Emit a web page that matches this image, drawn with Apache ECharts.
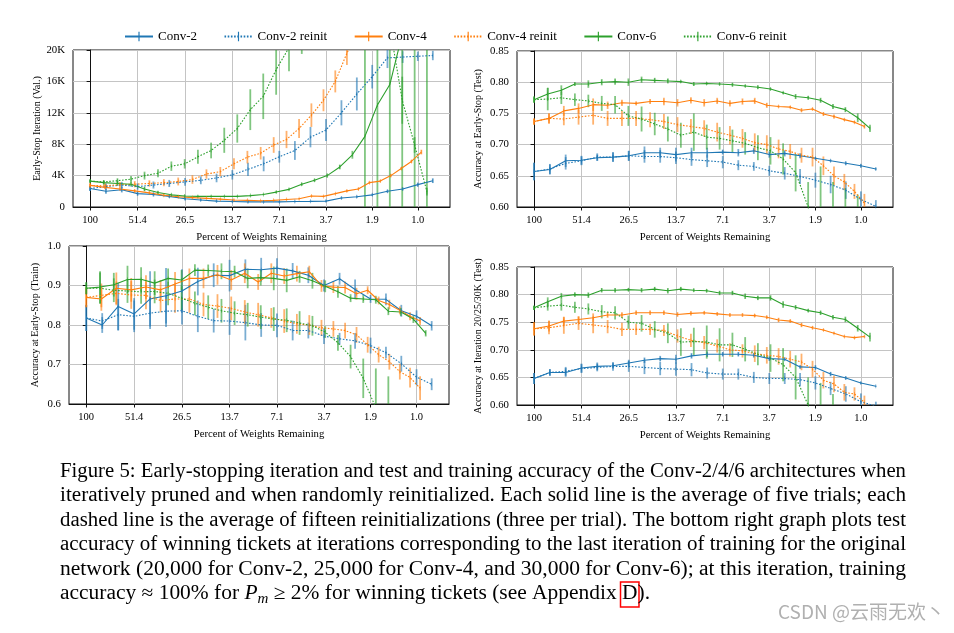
<!DOCTYPE html>
<html><head><meta charset="utf-8">
<script src="https://cdn.jsdelivr.net/npm/echarts@6.0.0/dist/echarts.min.js"></script>
<style>html,body{margin:0;padding:0;background:#fff}#c{width:954px;height:633px}</style>
</head><body><div id="c"></div>
<script>
// ---------- x positions: percent of weights remaining per network ----------
const pctConv2 = [100, 80.10, 64.16, 51.41, 41.20, 33.02, 26.47, 21.23, 17.03, 13.66, 10.97, 8.808, 7.076, 5.688, 4.575, 3.682, 2.965, 2.390, 1.928, 1.557, 1.258, 1.018, 0.825];
const pctConv4 = [100, 81.08, 65.84, 53.55, 43.63, 35.61, 29.13, 23.88, 19.62, 16.16, 13.35, 11.06, 9.184, 7.653, 6.397, 5.365, 4.515, 3.812, 3.231, 2.746, 2.343, 2.007, 1.723, 1.485, 1.284, 1.114, 0.969];
const pctConv6 = [100, 82.54, 68.19, 56.39, 46.68, 38.67, 32.07, 26.61, 22.11, 18.38, 15.29, 12.74, 10.62, 8.858, 7.395, 6.178, 5.166, 4.322, 3.620, 3.033, 2.544, 2.134, 1.792, 1.506, 1.266, 1.064, 0.896];
const xTickPct = [100, 51.41, 26.47, 13.66, 7.076, 3.682, 1.928, 1.018];
const xTickLabels = ['100', '51.4', '26.5', '13.7', '7.1', '3.7', '1.9', '1.0'];

// ---------- top-left: early-stop iteration (val.) ----------
const tlConv2 = [2350, 2000, 2200, 1700, 1600, 1350, 1050, 900, 750, 700, 650, 650, 650, 700, 720, 750, 1150, 1300, 1550, 2000, 2300, 2850, 3350];
const tlConv2Err = [300, 300, 350, 250, 250, 200, 200, 150, 150, 150, 100, 100, 100, 100, 100, 100, 150, 150, 150, 200, 200, 250, 300];
const tlConv2Re = [2350, 2600, 2800, 2600, 2800, 3000, 3200, 3400, 3700, 4100, 4800, 5500, 6400, 7200, 8900, 9800, 12000, 14400, 16600, 19000, 19100, 19200, 19300];
const tlConv2ReErr = [300, 400, 400, 400, 450, 450, 500, 500, 550, 600, 850, 950, 750, 1200, 1300, 1400, 1600, 2100, 1500, 1300, 750, 600, 600];
const tlConv4 = [2750, 2500, 2300, 2050, 1800, 1500, 1300, 1200, 1100, 1000, 900, 850, 800, 850, 950, 1050, 1400, 1350, 1700, 2050, 2300, 3100, 3300, 4000, 4900, 5800, 7000];
const tlConv4Err = [200, 200, 200, 200, 200, 150, 150, 150, 100, 100, 100, 100, 100, 100, 100, 100, 100, 100, 100, 150, 150, 150, 150, 200, 200, 200, 300];
const tlConv4Re = [2750, 2700, 2850, 2900, 3000, 3100, 3250, 3500, 4200, 4500, 5500, 6350, 6850, 7900, 8600, 10000, 11700, 13600, 16000, 19600, 22500, 24500, 25000, 25000, 25000, 25000, 25000];
const tlConv4ReErr = [300, 300, 350, 400, 400, 450, 500, 550, 600, 600, 700, 800, 800, 1000, 1100, 1200, 1500, 1400, 1400, 1500, 1500, 1500, 1000, 1000, 1000, 1000, 1000];
const tlConv6 = [3300, 3100, 3000, 2900, 2300, 1850, 1550, 1400, 1350, 1350, 1350, 1350, 1450, 1600, 1900, 2250, 2900, 3400, 4000, 5100, 6650, 9000, 13000, 15600, 22000, 24000, 25000];
const tlConv6Err = [200, 250, 300, 300, 300, 200, 150, 150, 100, 100, 100, 100, 100, 100, 150, 150, 200, 200, 250, 300, 500, 11000, 13500, 16000, 22000, 24000, 25000];
const tlConv6Re = [3300, 3200, 3350, 3550, 4000, 4300, 5200, 5500, 6400, 7200, 8500, 10000, 12400, 14100, 17500, 20300, 22500, 24000, 25000, 25000, 25000, 25000, 25000, 23000, 13600, 7900, 1950];
const tlConv6ReErr = [200, 200, 300, 400, 500, 500, 600, 600, 900, 1000, 1600, 1800, 2600, 2900, 3200, 3000, 3000, 2000, 1500, 1000, 1000, 1000, 1000, 3000, 3000, 1000, 500];

// ---------- top-right: accuracy at early-stop (test) ----------
const trConv2 = [0.657, 0.660, 0.674, 0.675, 0.679, 0.680, 0.682, 0.687, 0.687, 0.684, 0.687, 0.687, 0.688, 0.687, 0.690, 0.684, 0.686, 0.682, 0.678, 0.674, 0.670, 0.666, 0.661];
const trConv2Err = [0.014, 0.008, 0.010, 0.007, 0.005, 0.008, 0.008, 0.010, 0.008, 0.011, 0.008, 0.008, 0.004, 0.006, 0.005, 0.005, 0.005, 0.004, 0.002, 0.002, 0.003, 0.003, 0.002];
const trConv2Re = [0.657, 0.661, 0.670, 0.674, 0.680, 0.680, 0.682, 0.681, 0.681, 0.679, 0.676, 0.674, 0.672, 0.667, 0.665, 0.658, 0.654, 0.649, 0.643, 0.636, 0.627, 0.612, 0.601];
const trConv2ReErr = [0.014, 0.008, 0.010, 0.007, 0.006, 0.007, 0.008, 0.010, 0.010, 0.010, 0.010, 0.010, 0.010, 0.008, 0.007, 0.008, 0.010, 0.012, 0.012, 0.014, 0.014, 0.013, 0.010];
const trConv4 = [0.737, 0.742, 0.754, 0.758, 0.764, 0.763, 0.767, 0.766, 0.769, 0.769, 0.767, 0.771, 0.767, 0.770, 0.766, 0.769, 0.770, 0.763, 0.761, 0.760, 0.755, 0.757, 0.749, 0.745, 0.740, 0.736, 0.729];
const trConv4Err = [0.005, 0.008, 0.008, 0.008, 0.010, 0.006, 0.005, 0.003, 0.004, 0.006, 0.006, 0.005, 0.006, 0.005, 0.005, 0.005, 0.005, 0.004, 0.002, 0.002, 0.003, 0.002, 0.003, 0.003, 0.002, 0.002, 0.003];
const trConv4Re = [0.737, 0.742, 0.741, 0.744, 0.747, 0.742, 0.742, 0.742, 0.740, 0.737, 0.732, 0.729, 0.726, 0.720, 0.715, 0.710, 0.703, 0.700, 0.693, 0.689, 0.683, 0.680, 0.666, 0.650, 0.640, 0.625, 0.606];
const trConv4ReErr = [0.005, 0.008, 0.010, 0.012, 0.015, 0.012, 0.012, 0.012, 0.012, 0.012, 0.012, 0.012, 0.013, 0.015, 0.015, 0.015, 0.015, 0.015, 0.015, 0.012, 0.012, 0.015, 0.015, 0.015, 0.013, 0.012, 0.015];
const trConv6 = [0.772, 0.781, 0.787, 0.797, 0.797, 0.800, 0.801, 0.800, 0.804, 0.803, 0.802, 0.801, 0.797, 0.798, 0.797, 0.796, 0.794, 0.792, 0.789, 0.783, 0.777, 0.775, 0.771, 0.761, 0.756, 0.743, 0.726];
const trConv6Err = [0.005, 0.010, 0.008, 0.003, 0.006, 0.005, 0.005, 0.006, 0.005, 0.004, 0.004, 0.002, 0.003, 0.002, 0.002, 0.003, 0.002, 0.003, 0.002, 0.002, 0.004, 0.003, 0.004, 0.004, 0.004, 0.007, 0.006];
const trConv6Re = [0.772, 0.773, 0.775, 0.772, 0.770, 0.766, 0.764, 0.746, 0.741, 0.733, 0.725, 0.715, 0.720, 0.712, 0.710, 0.706, 0.702, 0.695, 0.690, 0.677, 0.655, 0.600, 0.580, 0.550, 0.520, 0.500, 0.450];
const trConv6ReErr = [0.005, 0.018, 0.010, 0.010, 0.010, 0.012, 0.014, 0.016, 0.020, 0.018, 0.020, 0.020, 0.030, 0.020, 0.018, 0.018, 0.018, 0.020, 0.022, 0.025, 0.030, 0.040, 0.085, 0.090, 0.110, 0.120, 0.100];

// ---------- bottom-left: accuracy at early-stop (train) ----------
const blConv2 = [0.818, 0.800, 0.847, 0.828, 0.866, 0.874, 0.886, 0.910, 0.926, 0.925, 0.941, 0.940, 0.944, 0.937, 0.926, 0.900, 0.917, 0.890, 0.866, 0.865, 0.836, 0.822, 0.798];
const blConv2Err = [0.033, 0.020, 0.060, 0.040, 0.070, 0.070, 0.055, 0.035, 0.030, 0.040, 0.025, 0.030, 0.025, 0.020, 0.020, 0.015, 0.015, 0.025, 0.010, 0.015, 0.015, 0.015, 0.012];
const blConv2Re = [0.818, 0.810, 0.826, 0.822, 0.830, 0.835, 0.836, 0.822, 0.811, 0.810, 0.806, 0.800, 0.799, 0.786, 0.786, 0.772, 0.765, 0.760, 0.748, 0.730, 0.702, 0.668, 0.650];
const blConv2ReErr = [0.033, 0.020, 0.040, 0.040, 0.040, 0.040, 0.035, 0.040, 0.030, 0.035, 0.045, 0.030, 0.030, 0.025, 0.020, 0.020, 0.015, 0.020, 0.020, 0.015, 0.020, 0.020, 0.015];
const blConv4 = [0.870, 0.866, 0.893, 0.889, 0.896, 0.889, 0.904, 0.918, 0.918, 0.927, 0.914, 0.931, 0.909, 0.931, 0.924, 0.930, 0.935, 0.899, 0.896, 0.895, 0.879, 0.888, 0.862, 0.852, 0.837, 0.822, 0.810];
const blConv4Err = [0.025, 0.030, 0.040, 0.030, 0.030, 0.025, 0.030, 0.025, 0.025, 0.025, 0.025, 0.025, 0.020, 0.025, 0.020, 0.020, 0.015, 0.015, 0.015, 0.015, 0.015, 0.010, 0.010, 0.012, 0.010, 0.010, 0.010];
const blConv4Re = [0.870, 0.875, 0.880, 0.876, 0.875, 0.862, 0.866, 0.866, 0.852, 0.848, 0.842, 0.833, 0.826, 0.818, 0.810, 0.803, 0.800, 0.793, 0.790, 0.786, 0.775, 0.750, 0.725, 0.707, 0.682, 0.667, 0.640];
const blConv4ReErr = [0.025, 0.030, 0.030, 0.035, 0.035, 0.030, 0.035, 0.035, 0.030, 0.030, 0.030, 0.030, 0.030, 0.025, 0.030, 0.025, 0.025, 0.020, 0.020, 0.020, 0.020, 0.020, 0.020, 0.020, 0.020, 0.025, 0.030];
const blConv6 = [0.893, 0.896, 0.902, 0.915, 0.916, 0.906, 0.918, 0.914, 0.939, 0.938, 0.936, 0.935, 0.918, 0.920, 0.918, 0.913, 0.922, 0.912, 0.898, 0.884, 0.868, 0.866, 0.864, 0.835, 0.833, 0.815, 0.779];
const blConv6Err = [0.015, 0.040, 0.030, 0.035, 0.030, 0.030, 0.025, 0.025, 0.015, 0.015, 0.020, 0.015, 0.025, 0.020, 0.030, 0.030, 0.015, 0.020, 0.015, 0.015, 0.010, 0.010, 0.010, 0.010, 0.010, 0.010, 0.008];
const blConv6Re = [0.893, 0.893, 0.888, 0.886, 0.884, 0.885, 0.880, 0.868, 0.855, 0.845, 0.836, 0.830, 0.826, 0.820, 0.815, 0.812, 0.805, 0.798, 0.782, 0.755, 0.720, 0.665, 0.590, 0.520, 0.450, 0.400, 0.350];
const blConv6ReErr = [0.015, 0.040, 0.030, 0.030, 0.030, 0.030, 0.030, 0.030, 0.030, 0.030, 0.030, 0.030, 0.030, 0.030, 0.030, 0.030, 0.030, 0.025, 0.015, 0.020, 0.030, 0.050, 0.100, 0.150, 0.150, 0.150, 0.150];

// ---------- bottom-right: accuracy at iteration 20/25/30K (test) ----------
const brConv2 = [0.648, 0.659, 0.659, 0.667, 0.670, 0.671, 0.676, 0.681, 0.684, 0.683, 0.689, 0.692, 0.692, 0.692, 0.690, 0.684, 0.683, 0.669, 0.668, 0.656, 0.649, 0.640, 0.634];
const brConv2Err = [0.010, 0.006, 0.008, 0.008, 0.007, 0.005, 0.006, 0.005, 0.005, 0.008, 0.005, 0.005, 0.004, 0.004, 0.004, 0.004, 0.003, 0.003, 0.004, 0.004, 0.003, 0.002, 0.001];
const brConv2Re = [0.648, 0.659, 0.661, 0.666, 0.668, 0.670, 0.670, 0.668, 0.666, 0.665, 0.664, 0.658, 0.656, 0.656, 0.650, 0.648, 0.648, 0.646, 0.640, 0.630, 0.620, 0.606, 0.598];
const brConv2ReErr = [0.010, 0.006, 0.008, 0.008, 0.007, 0.008, 0.010, 0.012, 0.012, 0.012, 0.012, 0.010, 0.010, 0.010, 0.010, 0.010, 0.010, 0.012, 0.012, 0.012, 0.014, 0.015, 0.008];
const brConv4 = [0.738, 0.743, 0.752, 0.755, 0.758, 0.763, 0.763, 0.767, 0.767, 0.767, 0.764, 0.766, 0.767, 0.765, 0.763, 0.763, 0.762, 0.759, 0.754, 0.752, 0.745, 0.740, 0.736, 0.730, 0.724, 0.722, 0.724];
const brConv4Err = [0.012, 0.010, 0.008, 0.006, 0.008, 0.005, 0.005, 0.004, 0.004, 0.004, 0.004, 0.004, 0.003, 0.003, 0.003, 0.003, 0.003, 0.003, 0.004, 0.003, 0.004, 0.003, 0.002, 0.002, 0.002, 0.002, 0.002];
const brConv4Re = [0.738, 0.740, 0.744, 0.748, 0.745, 0.742, 0.737, 0.737, 0.737, 0.735, 0.725, 0.717, 0.713, 0.707, 0.700, 0.698, 0.693, 0.690, 0.688, 0.683, 0.678, 0.665, 0.645, 0.638, 0.623, 0.620, 0.605];
const brConv4ReErr = [0.012, 0.012, 0.015, 0.012, 0.015, 0.012, 0.012, 0.010, 0.010, 0.010, 0.012, 0.012, 0.012, 0.012, 0.012, 0.012, 0.015, 0.015, 0.015, 0.015, 0.015, 0.015, 0.015, 0.015, 0.015, 0.012, 0.012];
const brConv6 = [0.776, 0.787, 0.797, 0.800, 0.799, 0.808, 0.808, 0.809, 0.808, 0.810, 0.807, 0.810, 0.808, 0.807, 0.803, 0.803, 0.797, 0.794, 0.794, 0.782, 0.777, 0.771, 0.767, 0.759, 0.755, 0.739, 0.723];
const brConv6Err = [0.004, 0.008, 0.006, 0.004, 0.005, 0.004, 0.004, 0.003, 0.004, 0.004, 0.005, 0.004, 0.003, 0.003, 0.004, 0.004, 0.005, 0.004, 0.005, 0.006, 0.004, 0.003, 0.004, 0.004, 0.005, 0.006, 0.008];
const brConv6Re = [0.776, 0.779, 0.781, 0.777, 0.774, 0.769, 0.767, 0.750, 0.748, 0.737, 0.730, 0.714, 0.715, 0.714, 0.709, 0.709, 0.701, 0.692, 0.685, 0.673, 0.650, 0.600, 0.560, 0.530, 0.500, 0.470, 0.440];
const brConv6ReErr = [0.004, 0.008, 0.010, 0.010, 0.010, 0.012, 0.012, 0.012, 0.015, 0.015, 0.018, 0.025, 0.025, 0.030, 0.030, 0.022, 0.022, 0.020, 0.025, 0.030, 0.040, 0.050, 0.080, 0.090, 0.100, 0.100, 0.080];

// ---------- labels ----------
const seriesNames = ['Conv-2', 'Conv-2 reinit', 'Conv-4', 'Conv-4 reinit', 'Conv-6', 'Conv-6 reinit'];
const xAxisTitle = 'Percent of Weights Remaining';
const captionLines = [
  'Figure 5: Early-stopping iteration and test and training accuracy of the Conv-2/4/6 architectures when',
  'iteratively pruned and when randomly reinitialized. Each solid line is the average of five trials; each',
  'dashed line is the average of fifteen reinitializations (three per trial). The bottom right graph plots test',
  'accuracy of winning tickets at iterations corresponding to the last iteration of training for the original',
  'network (20,000 for Conv-2, 25,000 for Conv-4, and 30,000 for Conv-6); at this iteration, training'
];

// ---------- build ----------
const SERIF = 'Liberation Serif';
const colorOf = ['#1f77b4', '#1f77b4', '#ff7f0e', '#ff7f0e', '#2ca02c', '#2ca02c'];
const pctOf = [pctConv2, pctConv2, pctConv4, pctConv4, pctConv6, pctConv6];
const toX = p => Math.log10(100 / p);
const xTickVals = xTickPct.map(toX);
const tickSym = 'path://M0,5L10,5M4.4,0L5.6,0L5.6,10L4.4,10Z';

const panels = [
  { grid: { left: 73, top: 50, width: 377, height: 157 }, min: 0, max: 20000, interval: 4000,
    name: 'Early-Stop Iteration (Val.)', nameGap: 30, fmt: v => v === 0 ? '0' : (v / 1000) + 'K',
    vals: [[tlConv2, tlConv2Err], [tlConv2Re, tlConv2ReErr], [tlConv4, tlConv4Err], [tlConv4Re, tlConv4ReErr], [tlConv6, tlConv6Err], [tlConv6Re, tlConv6ReErr]] },
  { grid: { left: 517, top: 51, width: 376, height: 156 }, min: 0.6, max: 0.85, interval: 0.05,
    name: 'Accuracy at Early-Stop (Test)', nameGap: 34, fmt: v => v.toFixed(2),
    vals: [[trConv2, trConv2Err], [trConv2Re, trConv2ReErr], [trConv4, trConv4Err], [trConv4Re, trConv4ReErr], [trConv6, trConv6Err], [trConv6Re, trConv6ReErr]] },
  { grid: { left: 69, top: 246, width: 380, height: 158 }, min: 0.6, max: 1.0, interval: 0.1,
    name: 'Accuracy at Early-Stop (Train)', nameGap: 29, fmt: v => v.toFixed(1),
    vals: [[blConv2, blConv2Err], [blConv2Re, blConv2ReErr], [blConv4, blConv4Err], [blConv4Re, blConv4ReErr], [blConv6, blConv6Err], [blConv6Re, blConv6ReErr]] },
  { grid: { left: 517, top: 267, width: 376, height: 138 }, min: 0.6, max: 0.85, interval: 0.05,
    name: 'Accuracy at Iteration 20/25/30K (Test)', nameGap: 34, fmt: v => v.toFixed(2),
    vals: [[brConv2, brConv2Err], [brConv2Re, brConv2ReErr], [brConv4, brConv4Err], [brConv4Re, brConv4ReErr], [brConv6, brConv6Err], [brConv6Re, brConv6ReErr]] }
];

function labelFor(v) {
  let b = 0;
  for (let i = 1; i < xTickVals.length; i++) if (Math.abs(xTickVals[i] - v) < Math.abs(xTickVals[b] - v)) b = i;
  return xTickLabels[b];
}

function errRender(color) {
  return function (params, api) {
    const cs = params.coordSys;
    const x = api.value(0), lo = api.value(1), hi = api.value(2);
    const a = api.coord([x, lo]), b = api.coord([x, hi]);
    const top = cs.y, bot = cs.y + cs.height;
    const y1 = Math.min(Math.max(a[1], top), bot), y2 = Math.min(Math.max(b[1], top), bot);
    if (Math.abs(y1 - y2) < 0.01) return { type: 'group', children: [] };
    return { type: 'line', shape: { x1: a[0], y1: y1, x2: a[0], y2: y2 },
      style: { stroke: color, lineWidth: 1.8, opacity: 0.6 } };
  };
}

const grids = [], xAxes = [], yAxes = [], series = [];
panels.forEach((pn, gi) => {
  grids.push(Object.assign({ show: true, borderColor: '#111', borderWidth: 1, backgroundColor: 'transparent' }, pn.grid));
  xAxes.push({
    type: 'value', gridIndex: gi, min: -0.104, max: 2.188,
    name: xAxisTitle, nameLocation: 'middle', nameGap: 24.5,
    nameTextStyle: { fontFamily: SERIF, fontSize: 10.7, color: '#000' },
    axisLine: { show: true, onZero: false, lineStyle: { color: '#111', width: 1 } },
    axisTick: { show: true, length: 3.5, customValues: xTickVals, lineStyle: { color: '#111' } },
    axisLabel: { customValues: xTickVals, formatter: labelFor, margin: 7.5, fontFamily: SERIF, fontSize: 10.5, color: '#000' },
    splitLine: { show: true, lineStyle: { color: '#c4c4c4', width: 1 } }
  });
  yAxes.push({
    type: 'value', gridIndex: gi, min: pn.min, max: pn.max, interval: pn.interval,
    name: pn.name, nameLocation: 'middle', nameGap: pn.nameGap,
    nameTextStyle: { fontFamily: SERIF, fontSize: 10, color: '#000' },
    axisLine: { show: true, lineStyle: { color: '#111', width: 1 } },
    axisTick: { show: true, length: 3.5, lineStyle: { color: '#111' } },
    axisLabel: { formatter: pn.fmt, margin: 8, fontFamily: SERIF, fontSize: 10.8, color: '#000' },
    splitLine: { show: true, lineStyle: { color: '#c4c4c4', width: 1 } }
  });
  pn.vals.forEach((pair, si) => {
    const pct = pctOf[si], vals = pair[0], errs = pair[1], color = colorOf[si];
    const dashed = si % 2 === 1;
    series.push({
      type: 'custom', name: 'err-' + gi + '-' + si, xAxisIndex: gi, yAxisIndex: gi, clip: true,
      z: 1, silent: true, encode: { x: 0, y: [1, 2] },
      data: vals.map((v, k) => [toX(pct[k]), v - errs[k], v + errs[k]]),
      renderItem: errRender(color)
    });
    series.push({
      type: 'line', name: seriesNames[si], xAxisIndex: gi, yAxisIndex: gi, z: 2, clip: true,
      symbol: tickSym, symbolSize: 4, showSymbol: true, showAllSymbol: true,
      itemStyle: { color: color },
      lineStyle: { color: color, width: 1.1, type: dashed ? [1.6, 1.6] : 'solid' },
      emphasis: { disabled: true }, silent: true,
      data: vals.map((v, k) => [toX(pct[k]), v])
    });
  });
});

// ---------- caption (graphic text) ----------
const cv = document.createElement('canvas').getContext('2d');
function tw(text, size, style) { cv.font = (style || '') + ' ' + size + 'px "' + SERIF + '"'; return cv.measureText(text).width; }
const CAP = 20, capLeft = 60, capRight = 906, capY0 = 471.5, capDY = 24.5, lastRight = 650;
const graphics = [];
captionLines.forEach((line, i) => {
  const s = (capRight - capLeft) / tw(line, CAP);
  graphics.push({ type: 'text', x: capLeft, y: capY0 + i * capDY, scaleX: s,
    style: { text: line, fontFamily: SERIF, fontSize: CAP, fill: '#000', align: 'left', verticalAlign: 'middle' } });
});
const y6 = capY0 + 5 * capDY;
const parts = [
  { t: 'accuracy \u2248 100% for ', size: CAP, st: '' },
  { t: 'P', size: CAP, st: 'italic' },
  { t: 'm', size: 14, st: 'italic', dy: 5 },
  { t: ' \u2265 2% for winning tickets (see Appendix ', size: CAP, st: '' },
  { t: 'D', size: CAP, st: '', box: true },
  { t: ').', size: CAP, st: '' }
];
const natural = parts.reduce((acc, p) => acc + tw(p.t, p.size, p.st), 0);
const s6 = (lastRight - capLeft) / natural;
let cx = capLeft;
parts.forEach(p => {
  const w = tw(p.t, p.size, p.st) * s6;
  graphics.push({ type: 'text', x: cx, y: y6 + (p.dy || 0), scaleX: s6,
    style: { text: p.t, fontFamily: SERIF, fontSize: p.size, fontStyle: p.st || 'normal', fill: '#000', align: 'left', verticalAlign: 'middle' } });
  if (p.box) {
    graphics.push({ type: 'rect', shape: { x: cx - 1.5, y: y6 - 12, width: w + 3, height: 25 },
      style: { fill: 'none', stroke: '#ff0000', lineWidth: 1.5 } });
  }
  cx += w;
});
graphics.push({ type: 'text', x: 778, y: 612,
  style: { text: 'CSDN @云雨无欢丶', fontFamily: 'Noto Sans CJK SC', fontSize: 19, fill: '#b0b0b0', align: 'left', verticalAlign: 'middle' } });

const chart = echarts.init(document.getElementById('c'), null, { renderer: 'canvas' });
chart.setOption({
  animation: false,
  backgroundColor: '#ffffff',
  legend: {
    left: 119, top: 25, itemWidth: 28, itemHeight: 12, itemGap: 26.5,
    data: seriesNames,
    textStyle: { fontFamily: SERIF, fontSize: 13, color: '#000', padding: [0, 0, 0, 0] },
    selectedMode: false
  },
  grid: grids, xAxis: xAxes, yAxis: yAxes, series: series,
  graphic: graphics
});
</script></body></html>
